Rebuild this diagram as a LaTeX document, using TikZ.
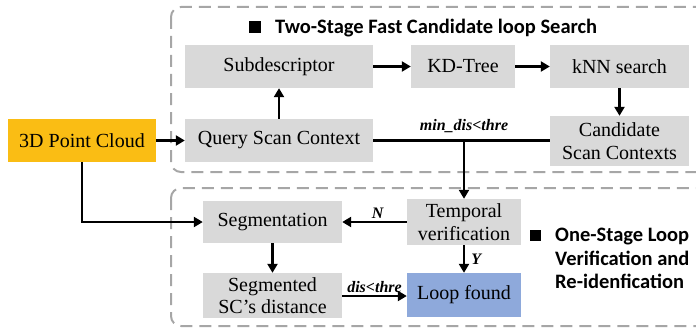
\documentclass[tikz,border=0pt]{standalone}
\usepackage{fontspec}
\setmainfont{Liberation Serif}
\newfontfamily\calib{Carlito}
\usetikzlibrary{arrows.meta}
\definecolor{boxgray}{HTML}{D9D9D9}
\definecolor{dashgray}{HTML}{A6A6A6}
\definecolor{pcorange}{HTML}{FABD14}
\definecolor{loopblue}{HTML}{8EA9DB}
\begin{document}
\begin{tikzpicture}[x=1pt,y=-1pt,
  box/.style={fill=boxgray, inner sep=0pt, align=center, font=\rmfamily\fontsize{20}{22.5}\selectfont},
  arr/.style={line width=2.7pt, -{Triangle[length=9pt,width=10pt]}},
  ln/.style={line width=2.7pt},
  dbox/.style={draw=dashgray, line width=2pt, dash pattern=on 12pt off 7pt, rounded corners=10pt},
  lbl/.style={font=\rmfamily\bfseries\itshape\fontsize{16}{18}\selectfont, inner sep=1pt},
  ttl/.style={font=\calib\bfseries\fontsize{20.5}{23.5}\selectfont, inner sep=0pt, align=left}]
\useasboundingbox (0,0) rectangle (696,329);
\clip (0,0) rectangle (696,329);
\draw[dbox] (171,7) rectangle (712,172);
\draw[dbox] (171,188) rectangle (712,326);

\node[box, fill=pcorange, minimum width=148pt, minimum height=43pt] (pc) at (82,140.5) {3D Point Cloud};
\node[box, minimum width=188pt, minimum height=43pt] (sub) at (279,66.5) {Subdescriptor};
\node[box, minimum width=188pt, minimum height=43pt] (qsc) at (279,140.5) {Query Scan Context};
\node[box, minimum width=104pt, minimum height=43pt] (kd) at (463,66.5) {KD-Tree};
\node[box, minimum width=139pt, minimum height=43pt] (knn) at (619.5,66.5) {kNN search};
\node[box, minimum width=139pt, minimum height=50pt] (cand) at (619.5,141) {Candidate\\Scan Contexts};
\node[box, minimum width=114pt, minimum height=46pt] (temp) at (464,222) {Temporal\\verification};
\node[box, fill=loopblue, minimum width=114pt, minimum height=44pt] (loop) at (464,295) {Loop found};
\node[box, minimum width=139pt, minimum height=42pt] (seg) at (272.5,222) {Segmentation};
\node[box, minimum width=139pt, minimum height=45pt] (segd) at (272.5,295.5) {Segmented\\SC’s distance};

\fill (249,21) rectangle (261,33);
\node[ttl, anchor=west] (t1) at (275,28) {Two-Stage Fast Candidate loop Search};
\fill (530,230) rectangle (541,241);
\node[ttl, anchor=west] (t2) at (555,258.5) {One-Stage Loop\\Verification and\\Re-idenfication};

\draw[arr] (pc.east) -- (qsc.west);
\draw[arr] (qsc.north) -- (sub.south);
\draw[arr] (sub.east) -- (kd.west);
\draw[arr] (kd.east) -- (knn.west);
\draw[arr] (knn.south) -- (cand.north);
\draw[ln] (qsc.east) -- (cand.west |- qsc.east);
\coordinate (j) at (temp.north |- qsc.east);
\draw[arr] (j) -- (temp.north);
\node[lbl, anchor=south] (l1) at (464,134) {min\_dis\textless thre};
\draw[arr] (pc.south) |- (seg.west);
\draw[arr] (temp.west) -- node[lbl, above, pos=0.45, yshift=1pt] (ln) {N} (seg.east);
\draw[arr] (temp.south) -- node[lbl, right, xshift=5pt] (ly) {Y} (loop.north);
\draw[arr] (segd.east |- 0,296) -- node[lbl, above, yshift=1pt] (ld) {dis\textless thre} (loop.west |- 0,296);
\draw[arr] (seg.south) -- (segd.north);
\end{tikzpicture}
\end{document}
